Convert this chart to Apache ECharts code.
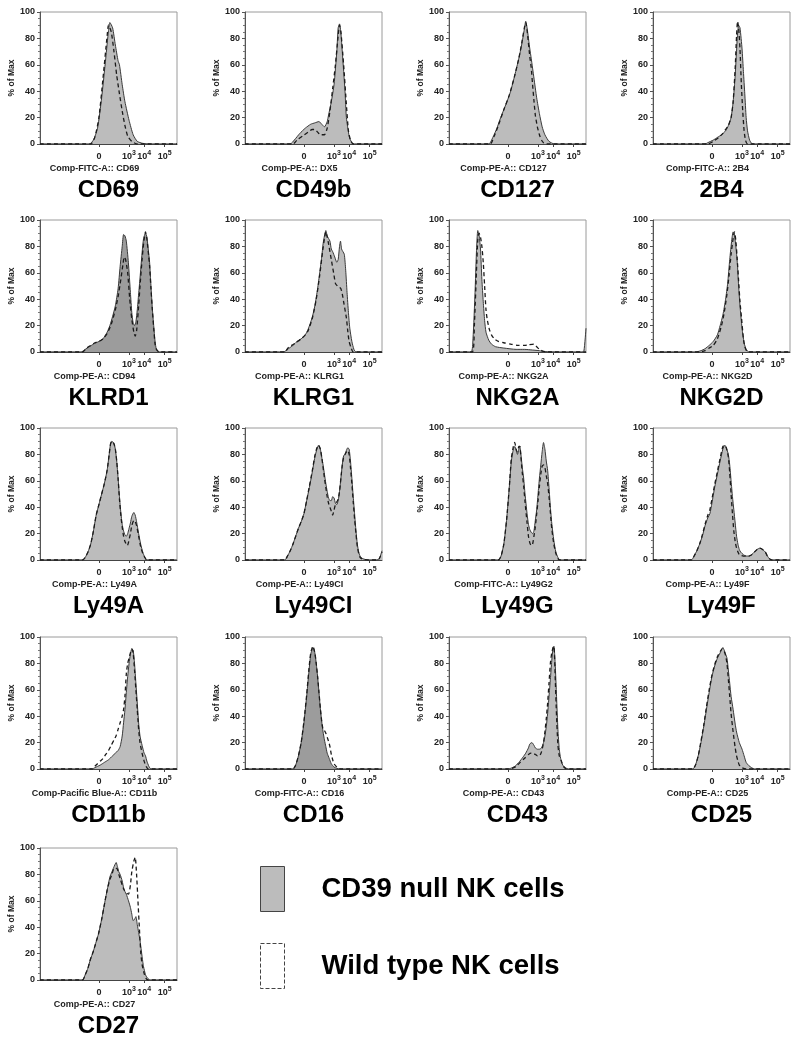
<!DOCTYPE html>
<html>
<head>
<meta charset="utf-8">
<script src="https://cdn.jsdelivr.net/npm/echarts@6/dist/echarts.min.js"></script>
<style>html,body{margin:0;padding:0;background:#fff}#c{width:806px;height:1050px}</style>
</head>
<body>
<div id="c"></div>
<script>
// ---------- DATA ----------
const TITLES = ['CD69','CD49b','CD127','2B4','KLRD1','KLRG1','NKG2A','NKG2D','Ly49A','Ly49CI','Ly49G','Ly49F','CD11b','CD16','CD43','CD25','CD27'];
const AXIS_NAMES = ['Comp-FITC-A:: CD69','Comp-PE-A:: DX5','Comp-PE-A:: CD127','Comp-FITC-A:: 2B4','Comp-PE-A:: CD94','Comp-PE-A:: KLRG1','Comp-PE-A:: NKG2A','Comp-PE-A:: NKG2D','Comp-PE-A:: Ly49A','Comp-PE-A:: Ly49CI','Comp-FITC-A:: Ly49G2','Comp-PE-A:: Ly49F','Comp-Pacific Blue-A:: CD11b','Comp-FITC-A:: CD16','Comp-PE-A:: CD43','Comp-PE-A:: CD25','Comp-PE-A:: CD27'];
const SERIES_NAMES = ['CD39 null NK cells','Wild type NK cells'];
const X_TICK_POS = [43, 65, 76, 91];
const X_TICK_LABELS = ['0','10^3','10^4','10^5'];
const Y_TICKS = [0,20,40,60,80,100];

const CD69_null = [[0,0],[36,0],[39,3],[42,12],[45,35],[48,65],[50,86],[51,92],[53,88],[55,75],[57,63],[58,60],[60,45],[62,32],[65,18],[68,7],[71,2],[75,0.5],[80,0],[100,0]];
const CD69_wt = [[0,0],[37,0],[40,5],[43,20],[46,50],[49,82],[50,90],[52,85],[54,70],[56,52],[58,38],[60,25],[62,14],[64,6],[67,2],[71,0],[100,0]];
const CD49b_null = [[0,0],[33,0],[36,3],[40,8],[44,12],[48,15],[51,16],[54,17],[56,15],[58,13],[60,17],[61,22],[63,32],[65,45],[67,70],[68,88],[69,91],[70,84],[71,70],[73,40],[74,20],[76,6],[77,3],[79,0],[100,0]];
const CD49b_wt = [[0,0],[35,0],[38,3],[42,6],[46,9],[49,11],[51,11],[53,9],[55,7],[58,7],[60,12],[62,25],[64,42],[66,60],[68,82],[69,90],[70,85],[72,60],[74,30],[75.5,10],[77,3],[79,0],[100,0]];
const CD127_null = [[0,0],[29,0],[32,5],[35,12],[37,18],[40,26],[43,34],[45,40],[48,52],[51,65],[53,75],[55,87],[56,93],[57,88],[59,72],[60,65],[62,50],[64,35],[66,23],[68,13],[70,7],[73,2],[77,0],[100,0]];
const CD127_wt = [[0,0],[30,0],[33,6],[36,14],[40,26],[44,37],[48,52],[51,65],[53,76],[55,88],[56,92],[57,86],[59,66],[60,58],[61,45],[62,33],[63,22],[64.5,13],[66,7],[67.5,3],[69,1],[71,0],[100,0]];
const B4_null = [[0,0],[38,0],[40,1],[44,3],[47,5],[50,7],[53,10],[55,14],[57,20],[58.5,32],[60,52],[61.5,80],[62.5,90],[63.5,88],[65,72],[66,55],[67,38],[68,20],[69,10],[70.5,3],[72,0.5],[74,0],[100,0]];
const B4_wt = [[0,0],[40,0],[44,2],[48,5],[51,8],[53,11],[55,14],[57,20],[58.5,32],[60,58],[61,82],[61.7,93],[62.5,88],[63.5,72],[64.5,45],[65.5,25],[66.5,10],[67.5,3],[69,0],[100,0]];
const KLRD1_null = [[0,0],[30,0],[33,2],[36,4],[39,6],[43,8],[46,10],[49,15],[51,20],[53,27],[55,35],[57,48],[58.5,65],[60,80],[61,89],[62,88],[63,84],[64.5,68],[66,45],[67,30],[68,22],[69,20],[70,23],[71,32],[72,44],[73,56],[74.5,75],[75.6,86],[77,90],[78,87],[79,78],[80,68],[81,50],[82,33],[83,20],[84,8],[85,2],[87,0],[100,0]];
const KLRD1_wt = [[0,0],[31,0],[34,3],[37,5],[40,7],[43,8],[46,10],[49,14],[52,21],[55,32],[57,42],[59,55],[60.5,66],[61.5,72],[62.5,70],[64,60],[65.5,40],[67,25],[68.5,15],[69.5,12],[70.5,16],[72,35],[73,50],[74.5,70],[75.6,82],[77,91],[78,86],[79,76],[80,65],[81,48],[82,32],[83,18],[84,6],[85,2],[87,0],[100,0]];
const KLRG1_null = [[0,0],[28,0],[31,2],[35,5],[38,8],[41,10],[44,13],[46,17],[49,26],[51,35],[53,48],[54.5,60],[56,72],[57,82],[58,88],[59,92],[60,88],[61,86],[62,84],[63,78],[64,76],[65.5,72],[67,68],[68,70],[69,80],[69.7,84],[70.5,78],[71.5,76],[72.5,74],[73.5,62],[74.5,45],[75.5,30],[76.5,18],[78,8],[79.5,2],[81,0],[100,0]];
const KLRG1_wt = [[0,0],[29,0],[32,4],[34,5],[37,7],[41,10],[44,13],[46,16],[49,25],[52,40],[54.5,58],[56.5,75],[58,86],[59,91],[60,87],[61,82],[62,76],[63,70],[64,64],[65,58],[66,52],[67.5,50],[69,49],[70,48],[71,44],[72,38],[73,32],[74,26],[75,16],[76,8],[77.5,3],[79,0],[100,0]];
const NKG2A_null = [[0,0],[16,0],[17.5,10],[19,45],[20,75],[21,92],[22,88],[23,78],[24,55],[25,38],[26,24],[27,15],[29,9],[31,6],[34,4],[40,3],[49,2],[55,2],[61,1.5],[66,1],[70,0.3],[80,0],[97,0],[98.5,1],[100,18]];
const NKG2A_wt = [[0,0],[17,0],[18.5,20],[20,60],[21,85],[22,90],[23,87],[24,80],[25,68],[26,50],[27,32],[28,24],[29.5,17],[31,13],[33,10],[36,8],[40,7],[45,6],[50,5],[55,5],[58,5.5],[62,6],[64,4],[66,2],[69,0.5],[75,0],[100,0]];
const NKG2D_null = [[0,0],[31,0],[35,1],[38,2.5],[41,5],[44,8],[47,13],[49,20],[51,28],[53,40],[54.5,52],[56,70],[57.5,85],[58.5,91],[59.5,88],[60.5,80],[61.5,68],[62.5,50],[63.5,35],[65,18],[66.5,7],[68,2],[70,0],[100,0]];
const NKG2D_wt = [[0,0],[34,0],[38,1],[41,3],[44,5],[47,10],[50,20],[52,30],[54,44],[55.5,58],[57,74],[58.5,86],[59.5,91],[60.5,84],[61.5,70],[62.5,54],[63.5,38],[64.6,26],[66,10],[67,4],[68.5,0.5],[70,0],[100,0]];
const Ly49A_null = [[0,0],[31,0],[33,2],[35,6],[37,12],[39,22],[41,34],[43,42],[45,50],[47,58],[49,68],[50.5,80],[51.5,88],[52.5,90],[54,88],[55,84],[56,75],[57,62],[58,48],[59,36],[60,27],[61,22],[62,19],[63,18],[64,20],[65,24],[66,28],[67,33],[68.5,36],[69.5,34],[70.5,29],[72,20],[73.5,12],[75,6],[76.5,2],[78,0],[100,0]];
const Ly49A_wt = [[0,0],[31,0],[33,2],[35,6],[37,12],[39,22],[41,34],[43,42],[45,50],[47,58],[49,68],[50.5,80],[51.5,88],[52.5,90],[54,88],[55,84],[56,75],[57,62],[58,46],[59,34],[60,25],[61,18],[62,14],[63,12],[63.8,11],[64.5,13],[66,20],[67,26],[68.5,30],[69.5,29],[70.5,26],[72,18],[73.5,10],[75,5],[76.5,2],[78,0],[100,0]];
const Ly49CI_null = [[0,0],[29,0],[31,3],[33,7],[35,12],[37,18],[39,24],[41,29],[43,35],[45,45],[47,55],[49,66],[51,78],[52.5,84],[53.7,87],[55,84],[56,78],[57,72],[58,65],[59,58],[60,52],[61,47],[62,45],[63,45],[64,48],[65,47],[66,43],[67,42],[68,45],[69,52],[70,62],[71,72],[72,79],[73,80],[74,83],[75,85],[76,84],[77,75],[78,62],[79,48],[80,35],[81,22],[82,12],[83,6],[84,3],[86,1],[90,0],[96,0],[98,1],[100,7]];
const Ly49CI_wt = [[0,0],[29,0],[31,3],[33,7],[35,12],[37,18],[39,24],[41,29],[43,35],[45,45],[47,56],[49,67],[51,79],[52.5,85],[53.7,87],[55,84],[56,78],[57,70],[58,62],[59,55],[60,48],[61,43],[62,40],[63,37],[64,34],[65,38],[66,42],[67,44],[68,46],[69,52],[70,62],[71,72],[72,78],[73,80],[74,82],[75,83],[76,80],[77,70],[78,58],[79,44],[80,31],[81,20],[82,10],[83,5],[84,2],[86,0.5],[90,0],[96,0],[98,1],[100,6]];
const Ly49G_null = [[0,0],[36,0],[38,3],[40,12],[42,30],[44,55],[45.5,75],[47,84],[48,86],[49,83],[50,80],[51,84],[51.7,86],[52.5,80],[53.5,70],[54.5,62],[55.5,50],[57,35],[58,27],[59,23],[60,21],[61,20],[62,22],[63,30],[64,38],[65,50],[66,62],[67,72],[68,82],[69,89],[70,84],[71,75],[72,68],[73,55],[74,40],[75,28],[76.5,15],[78,6],[79.5,2],[81,0],[100,0]];
const Ly49G_wt = [[0,0],[36,0],[38,3],[40,12],[42,30],[44,55],[45.5,77],[47,86],[48,89],[49,84],[50,82],[51,86],[51.7,86],[52.5,78],[53.5,66],[54.5,56],[55.5,44],[57,28],[58,18],[59,13],[60,11],[61,12],[62,18],[63,25],[64,35],[65,45],[66,56],[67,65],[68,71],[69,72],[70,70],[71,64],[72,58],[73,48],[74,36],[75,24],[76.5,12],[78,5],[79.5,1],[81,0],[100,0]];
const Ly49F_null = [[0,0],[28,0],[30,3],[32,7],[34,12],[36,18],[38,26],[40,32],[41.5,35],[43,43],[45,55],[47,65],[49,75],[51,84],[52.4,87],[53.5,85],[55,80],[56,72],[57,60],[58,48],[59,38],[60,28],[61,18],[62,12],[63,8],[64,6],[66,4],[68,3],[70,3],[72,4],[74,6],[76,8],[78,9],[80,8],[82,6],[83.5,3],[85,1],[87,0],[100,0]];
const Ly49F_wt = [[0,0],[28,0],[30,3],[32,7],[34,12],[36,19],[38,27],[40,34],[41.5,38],[43,46],[45,57],[47,67],[49,77],[51,86],[52.4,87],[53.5,85],[55,78],[56,66],[57,50],[58,35],[59,22],[60,14],[61,9],[62,6],[63,4],[64,3.5],[66,3],[68,3],[70,3],[72,4],[74,6],[76,8],[78,9],[80,8],[82,6],[83.5,3],[85,1],[87,0],[100,0]];
const CD11b_null = [[0,0],[38,0],[40,1],[42,2],[44,3],[47,5],[50,7],[53,10],[55,12],[57,14],[58.5,17],[60,25],[61,35],[62,45],[63,58],[64,70],[65,80],[66,87],[67,91],[68,90],[69,80],[70,65],[71,50],[72,35],[73,25],[74.5,18],[76,12],[77,10],[78,6],[79.5,2],[81,0],[100,0]];
const CD11b_wt = [[0,0],[38,0],[40,2],[42,4],[44,6],[46,8],[48,11],[50,14],[52,18],[54,22],[55.5,25],[57,30],[58.5,35],[60,40],[61,45],[62,55],[63,72],[64,80],[65,84],[66,88],[67,91],[68,88],[69,75],[70,60],[71,45],[72,30],[73,20],[74.5,12],[76,6],[77.5,2],[79,0],[100,0]];
const CD16_null = [[0,0],[35,0],[37,3],[39,10],[41,20],[43,35],[45,55],[46.5,72],[48,87],[49.6,92],[51,88],[52,80],[53,70],[54,58],[55,46],[56,36],[57,28],[58,22],[59,17],[60,12],[61.5,8],[63,4],[65,1.5],[67,0.5],[69,0],[100,0]];
const CD16_wt = [[0,0],[35,0],[37,3],[39,10],[41,20],[43,36],[45,56],[46.5,74],[48,88],[49.6,93],[51,88],[52,80],[53,70],[54,58],[55,46],[56,36],[57,30],[58,29],[59,27],[60,24],[61,21],[62,17],[63,11],[64,7],[65,4],[66.5,2],[68,0.5],[70,0],[100,0]];
const CD43_null = [[0,0],[42,0],[45,0.5],[48,2],[51,5],[54,9],[56,12],[58,16],[59,19],[60.5,20],[62,18],[63,16],[64.5,15],[66,15],[67.5,16],[69,20],[70,25],[71,32],[72,42],[73,55],[74,68],[75,82],[76,92],[76.6,93],[77.5,80],[78.5,55],[79.5,30],[80.5,15],[81.5,8],[83,3],[85,1],[87,0],[100,0]];
const CD43_wt = [[0,0],[43,0],[46,0.5],[49,2],[52,5],[55,8],[58,11],[60,12],[61.5,12],[63,11],[64.5,10],[66,10],[67.5,13],[69,20],[70,28],[71,38],[72,50],[73,65],[74,80],[75,88],[76,92],[76.6,93],[77.5,70],[78.5,40],[79.5,18],[80.5,10],[82,6],[83.5,2],[85,0.5],[87,0],[100,0]];
const CD25_null = [[0,0],[29,0],[31,3],[33,10],[35,20],[37,32],[39,45],[41,58],[43,70],[45,78],[47,84],[49,88],[51,92],[52,90],[53,87],[54,84],[55,75],[56,65],[57,55],[58.5,45],[60,34],[61,28],[63,20],[65,15],[66.5,10],[68,5],[70,2.5],[72,1],[74,0],[100,0]];
const CD25_wt = [[0,0],[29,0],[31,3],[33,10],[35,21],[37,33],[39,47],[41,60],[43,71],[45,79],[47,85],[49,89],[50.5,91],[52,89],[53,86],[54,80],[55,68],[56,55],[57,42],[58.5,28],[60,16],[61,10],[62,6],[63,3],[65,1],[68,0],[100,0]];
const CD27_null = [[0,0],[31,0],[33,4],[35,9],[36.6,15],[39,22],[41,29],[42.7,35],[45,46],[47.5,60],[49,68],[51,78],[52.5,82],[53.7,85],[55.6,89],[56.5,86],[57.5,82],[58.5,80],[60,75],[61,70],[62,67],[63,65],[64.6,60],[66,55],[67,50],[68,45],[69,46],[70,48],[71,42],[72,36],[73,30],[74,22],[75,14],[75.6,10],[77,4],[78,2],[80.5,0],[100,0]];
const CD27_wt = [[0,0],[31,0],[33,4],[35,9],[36.6,15],[39,22],[41,29],[42.7,35],[45,46],[47.5,60],[49,68],[51,76],[52.5,80],[53.7,84],[55,85],[56.5,84],[57.5,80],[58.5,77],[60,72],[61.5,68],[63,66],[64.6,65],[66,72],[67,82],[68.5,90],[69.5,93],[70.5,80],[71.5,60],[72.5,40],[73.6,20],[74.5,12],[76,5],[77.5,1],[79,0],[100,0]];

const NULL_SERIES = [CD69_null,CD49b_null,CD127_null,B4_null,KLRD1_null,KLRG1_null,NKG2A_null,NKG2D_null,Ly49A_null,Ly49CI_null,Ly49G_null,Ly49F_null,CD11b_null,CD16_null,CD43_null,CD25_null,CD27_null];
const WT_SERIES = [CD69_wt,CD49b_wt,CD127_wt,B4_wt,KLRD1_wt,KLRG1_wt,NKG2A_wt,NKG2D_wt,Ly49A_wt,Ly49CI_wt,Ly49G_wt,Ly49F_wt,CD11b_wt,CD16_wt,CD43_wt,CD25_wt,CD27_wt];

// ---------- LAYOUT / STYLE ----------
const FONT = '"Liberation Sans", Arial, Helvetica, sans-serif';
const COL_LEFT = [40, 245, 449, 653];
const ROW_TOP = [12, 220, 428, 637, 848];
const PW = 137, PH = 132;
const DARK = {4: true, 13: true};
const FILL = '#bcbcbc', FILL_DARK = '#9c9c9c';

const grids = [], xAxes = [], yAxes = [], series = [], titles = [];

// dummy bar series so legend icons use rect styling
series.push({type:'bar', name:SERIES_NAMES[0], xAxisIndex:0, yAxisIndex:0, data:[]});
series.push({type:'bar', name:SERIES_NAMES[1], xAxisIndex:0, yAxisIndex:0, data:[]});

function xFormatter(v){
  const i = X_TICK_POS.indexOf(v);
  if (i < 0) return '';
  const lab = X_TICK_LABELS[i];
  if (lab.indexOf('^') < 0) return '{b|' + lab + '}';
  const p = lab.split('^');
  return '{b|' + p[0] + '}{s|' + p[1] + '}';
}

TITLES.forEach((t, i) => {
  const r = Math.floor(i / 4), c = i % 4;
  const left = COL_LEFT[c], top = ROW_TOP[r];
  const bottom = top + PH, cx = left + PW / 2;
  grids.push({left: left, top: top, width: PW, height: PH, show: true, borderColor: '#9a9a9a', borderWidth: 1, containLabel: false});
  xAxes.push({
    type: 'value', gridIndex: i, min: 0, max: 100,
    axisLine: {show: true, onZero: false, lineStyle: {color: '#444', width: 1}},
    axisTick: {show: true, customValues: X_TICK_POS, length: 3, lineStyle: {color: '#444'}},
    splitLine: {show: false},
    axisLabel: {
      customValues: X_TICK_POS, margin: 6, formatter: xFormatter,
      rich: {
        b: {fontSize: 9, fontWeight: 'bold', color: '#222', fontFamily: FONT, lineHeight: 11, verticalAlign: 'bottom'},
        s: {fontSize: 7, fontWeight: 'bold', color: '#222', fontFamily: FONT, lineHeight: 7, verticalAlign: 'top'}
      }
    }
  });
  yAxes.push({
    type: 'value', gridIndex: i, min: 0, max: 100, interval: 20,
    axisLine: {show: true, lineStyle: {color: '#555', width: 1}},
    axisTick: {show: true, length: 3, lineStyle: {color: '#555'}},
    minorTick: {show: true, splitNumber: 4, length: 2, lineStyle: {color: '#777'}},
    splitLine: {show: false},
    axisLabel: {fontSize: 9, fontWeight: 'bold', color: '#222', fontFamily: FONT, margin: 5},
    name: '% of Max', nameLocation: 'middle', nameGap: 23, nameRotate: 90,
    nameTextStyle: {fontSize: 8.5, fontWeight: 'bold', color: '#222', fontFamily: FONT}
  });
  series.push({
    type: 'line', name: SERIES_NAMES[0], xAxisIndex: i, yAxisIndex: i,
    data: NULL_SERIES[i], smooth: 0.2, symbol: 'none', silent: true,
    lineStyle: {color: '#3a3a3a', width: 1},
    areaStyle: {color: DARK[i] ? FILL_DARK : FILL, opacity: 1},
    z: 2
  });
  series.push({
    type: 'line', name: SERIES_NAMES[1], xAxisIndex: i, yAxisIndex: i,
    data: WT_SERIES[i], smooth: 0.2, symbol: 'none', silent: true,
    lineStyle: {color: '#1a1a1a', width: 1.3, type: [4, 3]},
    z: 3
  });
  titles.push({
    text: AXIS_NAMES[i], left: cx - 14, top: bottom + 20, textAlign: 'center', padding: 0,
    textStyle: {fontSize: 9, fontWeight: 'bold', color: '#222', fontFamily: FONT, lineHeight: 10}
  });
  titles.push({
    text: t, left: cx, top: bottom + 34, textAlign: 'center', padding: 0,
    textStyle: {fontSize: 24, fontWeight: 'bold', color: '#000', fontFamily: FONT, lineHeight: 24}
  });
});

const chart = echarts.init(document.getElementById('c'), null, {renderer: 'canvas'});
chart.setOption({
  animation: false,
  backgroundColor: '#fff',
  title: titles,
  grid: grids,
  xAxis: xAxes,
  yAxis: yAxes,
  legend: {
    orient: 'vertical', left: 260, top: 866, padding: 0, itemWidth: 24, itemHeight: 45, itemGap: 31,
    selectedMode: false, icon: 'rect',
    data: [
      {name: SERIES_NAMES[0], itemStyle: {color: FILL, borderColor: '#444', borderWidth: 1}},
      {name: SERIES_NAMES[1], itemStyle: {color: 'rgba(255,255,255,0)', borderColor: '#444', borderWidth: 1, borderType: 'dashed'}}
    ],
    textStyle: {fontSize: 27.5, fontWeight: 'bold', color: '#000', fontFamily: FONT, padding: [0, 0, 0, 32]}
  },
  series: series
});
</script>
</body>
</html>
